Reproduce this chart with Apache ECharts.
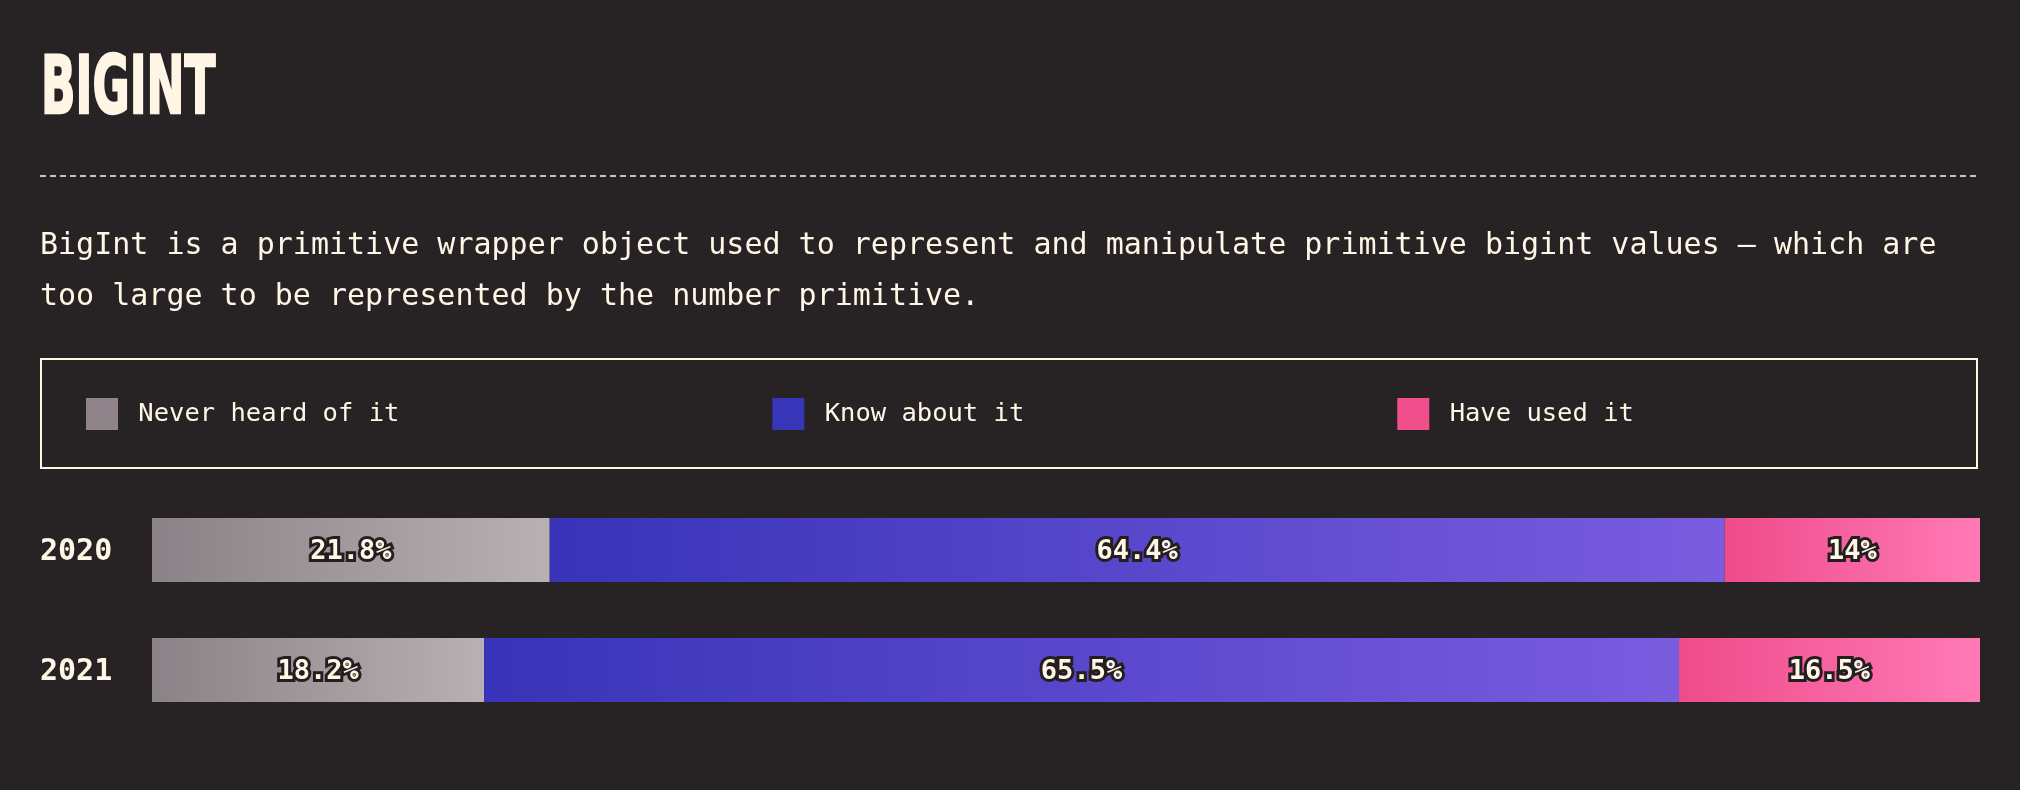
<!DOCTYPE html>
<html>
<head>
<meta charset="utf-8">
<script src="https://cdn.jsdelivr.net/npm/echarts@6/dist/echarts.min.js"></script>
<style>
html,body{margin:0;padding:0;background:#272325;}
#chart{width:2020px;height:790px;}
</style>
</head>
<body>
<div id="chart"></div>
<script>
const titleText = 'BIGINT';
const descLines = [
  'BigInt is a primitive wrapper object used to represent and manipulate primitive bigint values — which are',
  'too large to be represented by the number primitive.'
];
const categories = ['2020', '2021'];
const seriesNames = ['Never heard of it', 'Know about it', 'Have used it'];
const neverHeard = [21.8, 18.2];
const knowAbout = [64.4, 65.5];
const haveUsed = [14, 16.5];

const cream = '#fff6e6';
const bg = '#272325';
const mono = '"DejaVu Sans Mono", monospace';

const gradStops = [
  ['#8b8287', '#b9b0b3'],
  ['#3833b8', '#7a5cdf'],
  ['#ef4b8a', '#ff7ab6']
];
const swatchColors = ['#8d8388', '#3935b8', '#f04f8c'];
const values = [neverHeard, knowAbout, haveUsed];

const chart = echarts.init(document.getElementById('chart'), null, {renderer: 'canvas'});

const series = seriesNames.map((name, i) => ({
  name: name,
  type: 'bar',
  stack: 'total',
  barWidth: 64,
  data: values[i],
  itemStyle: {
    color: new echarts.graphic.LinearGradient(0, 0, 1, 0, [
      {offset: 0, color: gradStops[i][0]},
      {offset: 1, color: gradStops[i][1]}
    ])
  },
  label: {
    show: true,
    position: 'inside',
    offset: [0, 2],
    formatter: '{c}%',
    fontFamily: mono,
    fontWeight: 'bold',
    fontSize: 27,
    color: cream,
    textBorderColor: '#231f20',
    textBorderWidth: 6
  },
  emphasis: {disabled: true}
}));

chart.setOption({
  backgroundColor: bg,
  animation: false,
  grid: {left: 152, right: 40, top: 490, height: 240},
  xAxis: {type: 'value', min: 0, max: 'dataMax', show: false},
  yAxis: {
    type: 'category',
    data: categories,
    inverse: true,
    axisLine: {show: false},
    axisTick: {show: false},
    axisLabel: {
      align: 'left',
      margin: 112,
      formatter: v => '{y|' + v + '}',
      rich: {
        y: {
          padding: [5, 0, 0, 0],
          fontFamily: mono,
          fontWeight: 'bold',
          fontSize: 30,
          color: cream
        }
      }
    }
  },
  legend: {
    left: 86,
    top: 398,
    padding: 0,
    itemWidth: 32,
    itemHeight: 32,
    itemGap: 373,
    icon: 'rect',
    selectedMode: false,
    formatter: name => ' ' + name,
    textStyle: {fontFamily: mono, fontSize: 25.5, color: cream},
    data: seriesNames.map((n, i) => ({name: n, itemStyle: {color: swatchColors[i]}}))
  },
  graphic: [
    {
      type: 'text', x: 41, y: 92, scaleX: 0.56,
      style: {text: titleText, font: 'bold 81px "DejaVu Sans"', fill: cream, stroke: cream, lineWidth: 2.5, textVerticalAlign: 'middle'}
    },
    {
      type: 'line',
      shape: {x1: 40, y1: 176, x2: 1980, y2: 176},
      style: {stroke: cream, lineWidth: 1.5, lineDash: [6, 4]}
    },
    {
      type: 'text', x: 40, y: 246,
      style: {text: descLines[0], font: '30px ' + mono, fill: cream, textVerticalAlign: 'middle'}
    },
    {
      type: 'text', x: 40, y: 297,
      style: {text: descLines[1], font: '30px ' + mono, fill: cream, textVerticalAlign: 'middle'}
    },
    {
      type: 'rect',
      shape: {x: 41, y: 359, width: 1936, height: 109},
      style: {fill: 'none', stroke: cream, lineWidth: 2}
    }
  ],
  series: series
});
</script>
</body>
</html>
